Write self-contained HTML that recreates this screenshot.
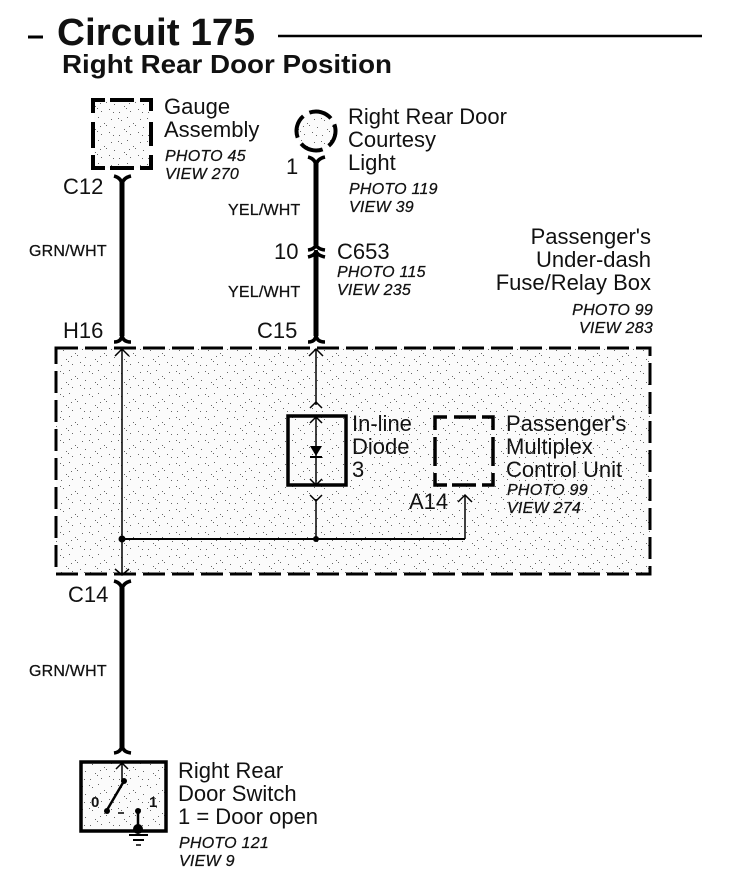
<!DOCTYPE html>
<html><head><meta charset="utf-8"><style>
html,body{margin:0;padding:0;background:#fff}
svg{display:block}
text{font-family:"Liberation Sans",sans-serif;fill:#111}
.l{font-size:22px}
.p{font-size:16px;font-style:italic;letter-spacing:.25px;stroke:#111;stroke-width:.25px}
.w{font-size:16px;letter-spacing:.2px;stroke:#111;stroke-width:.25px}
.b{fill:none;stroke:#000}
</style></head><body>
<svg width="736" height="892" viewBox="0 0 736 892" xmlns="http://www.w3.org/2000/svg">
<defs>
<pattern id="d" width="29" height="23" patternUnits="userSpaceOnUse">
<rect width="29" height="23" fill="#fbfbfb"/>
<g fill="#666">
<rect x="2" y="3" width="1" height="1"/><rect x="5" y="5" width="1" height="1"/>
<rect x="11" y="2" width="1" height="1"/><rect x="17" y="8" width="1" height="1"/>
<rect x="19" y="10" width="1" height="1"/><rect x="24" y="4" width="1" height="1"/>
<rect x="8" y="14" width="1" height="1"/><rect x="10" y="16" width="1" height="1"/>
<rect x="14" y="19" width="1" height="1"/><rect x="22" y="17" width="1" height="1"/>
<rect x="26" y="20" width="1" height="1"/><rect x="3" y="20" width="1" height="1"/>
<rect x="13" y="11" width="1" height="1"/><rect x="27" y="12" width="1" height="1"/>
</g>
</pattern>
</defs>
<rect width="736" height="892" fill="#fff"/>

<!-- Title -->
<line x1="28" y1="37" x2="43" y2="37" stroke="#000" stroke-width="3"/>
<line x1="278" y1="36" x2="702" y2="36" stroke="#000" stroke-width="2.5"/>
<text x="57" y="45" font-size="38" font-weight="bold" textLength="198" lengthAdjust="spacingAndGlyphs">Circuit 175</text>
<text x="62" y="73" font-size="26" font-weight="bold" textLength="330" lengthAdjust="spacingAndGlyphs">Right Rear Door Position</text>

<!-- Gauge -->
<rect x="94" y="100" width="56" height="68" fill="url(#d)"/>
<path class="b" stroke-width="4" d="M93 113V100H105M110 100H134M140 100H151V111M93 122V148M151 122V146M93 155V168H105M110 168H134M140 168H151V155"/>
<text class="l" x="164" y="114">Gauge</text>
<text class="l" x="164" y="137">Assembly</text>
<text class="p" x="165" y="161">PHOTO 45</text>
<text class="p" x="165" y="179">VIEW 270</text>
<text class="l" x="63" y="194">C12</text>
<path d="M114 176 Q122 178 122 186 Q122 178 131 176" class="b" stroke-width="3.5"/>
<line x1="122" y1="180" x2="122" y2="336" stroke="#000" stroke-width="5"/>
<text class="w" x="29" y="256">GRN/WHT</text>
<text class="l" x="63" y="338">H16</text>
<path d="M114 342 Q122 342 122 334 Q122 342 131 342" class="b" stroke-width="3.5"/>

<!-- Courtesy light -->
<circle cx="316" cy="131" r="20" fill="url(#d)"/>
<circle cx="316" cy="131" r="19.5" class="b" stroke-width="4" stroke-dasharray="23.6 7" transform="rotate(-20 316 131)"/>
<text class="l" x="348" y="124">Right Rear Door</text>
<text class="l" x="348" y="147">Courtesy</text>
<text class="l" x="348" y="170">Light</text>
<text class="p" x="349" y="194">PHOTO 119</text>
<text class="p" x="349" y="212">VIEW 39</text>
<text class="l" x="286" y="174">1</text>
<path d="M308 157 Q316 159 316 167 Q316 159 325 157" class="b" stroke-width="3.5"/>
<line x1="316" y1="161" x2="316" y2="245" stroke="#000" stroke-width="5"/>
<text class="w" x="228" y="215">YEL/WHT</text>
<text class="l" x="274" y="259">10</text>
<path d="M308 250 Q316 249 316 243 Q316 249 325 250" class="b" stroke-width="3.5"/>
<path d="M308 257 Q316 255 316 250 Q316 255 325 257" class="b" stroke-width="3.5"/>
<line x1="316" y1="252" x2="316" y2="336" stroke="#000" stroke-width="5"/>
<text class="l" x="337" y="259">C653</text>
<text class="p" x="337" y="277">PHOTO 115</text>
<text class="p" x="337" y="295">VIEW 235</text>
<text class="w" x="228" y="297">YEL/WHT</text>
<text class="l" x="257" y="338">C15</text>
<path d="M308 342 Q316 342 316 334 Q316 342 325 342" class="b" stroke-width="3.5"/>

<!-- Fuse box label -->
<text class="l" x="651" y="244" text-anchor="end">Passenger's</text>
<text class="l" x="651" y="267" text-anchor="end">Under-dash</text>
<text class="l" x="651" y="290" text-anchor="end">Fuse/Relay Box</text>
<text class="p" x="653" y="315" text-anchor="end">PHOTO 99</text>
<text class="p" x="653" y="333" text-anchor="end">VIEW 283</text>

<!-- Main box -->
<rect x="56" y="348" width="594" height="226" fill="url(#d)"/>
<rect x="56" y="348" width="594" height="226" class="b" stroke-width="3" stroke-dasharray="22 7"/>
<line x1="122" y1="349" x2="122" y2="575" stroke="#000" stroke-width="1.5"/>
<path d="M115 356 L122 349 L129 356" class="b" stroke-width="1.5"/>
<path d="M115 569 L122 575 L129 569" class="b" stroke-width="1.5"/>
<line x1="316" y1="349" x2="316" y2="405" stroke="#000" stroke-width="1.5"/>
<path d="M309 356 L316 349 L323 356" class="b" stroke-width="1.5"/>
<path d="M310 408 L316 402 L322 408" class="b" stroke-width="1.5"/>

<!-- Diode -->
<rect x="288" y="416" width="58" height="69" fill="url(#d)" stroke="#000" stroke-width="3.5"/>
<line x1="316" y1="416" x2="316" y2="485" stroke="#000" stroke-width="1.5"/>
<path d="M310 423 L316 417 L322 423" class="b" stroke-width="1.5"/>
<path d="M310 479 L316 485 L322 479" class="b" stroke-width="1.5"/>
<polygon points="310,446 322,446 316,456" fill="#000"/>
<line x1="310" y1="457" x2="322" y2="457" stroke="#000" stroke-width="2"/>
<text class="l" x="352" y="431">In-line</text>
<text class="l" x="352" y="454">Diode</text>
<text class="l" x="352" y="477">3</text>
<path d="M310 495 L316 501 L322 495" class="b" stroke-width="1.5"/>
<line x1="316" y1="499" x2="316" y2="539" stroke="#000" stroke-width="1.5"/>
<circle cx="316" cy="539" r="3" fill="#000"/>
<circle cx="122" cy="539" r="3.5" fill="#000"/>
<line x1="122" y1="539" x2="465" y2="539" stroke="#000" stroke-width="2"/>
<line x1="465" y1="539" x2="465" y2="495" stroke="#000" stroke-width="1.5"/>
<path d="M458 502 L465 495 L472 502" class="b" stroke-width="1.5"/>

<!-- Multiplex -->
<path class="b" stroke-width="3.5" d="M435 430V417H447M454 417H476M482 417H493V430M435 437V466M493 437V466M435 473V485H447M452 485H476M482 485H493V473"/>
<text class="l" x="506" y="431">Passenger's</text>
<text class="l" x="506" y="454">Multiplex</text>
<text class="l" x="506" y="477">Control Unit</text>
<text class="p" x="507" y="495">PHOTO 99</text>
<text class="p" x="507" y="513">VIEW 274</text>
<text class="l" x="409" y="509">A14</text>

<!-- Lower wire -->
<text class="l" x="68" y="602">C14</text>
<path d="M114 581 Q122 583 122 591 Q122 583 131 581" class="b" stroke-width="3.5"/>
<line x1="122" y1="586" x2="122" y2="750" stroke="#000" stroke-width="5"/>
<text class="w" x="29" y="676">GRN/WHT</text>
<path d="M114 753 Q122 752 122 744 Q122 752 131 753" class="b" stroke-width="3.5"/>

<!-- Switch -->
<rect x="81" y="762" width="85" height="69" fill="url(#d)" stroke="#000" stroke-width="3.5"/>
<line x1="122" y1="763" x2="122" y2="782" stroke="#000" stroke-width="1.5"/>
<path d="M116 769 L122 763 L128 769" class="b" stroke-width="1.5"/>
<circle cx="124" cy="781" r="3" fill="#000"/>
<line x1="124" y1="781" x2="107" y2="810" stroke="#000" stroke-width="2.5"/>
<circle cx="107" cy="811" r="3" fill="#000"/>
<circle cx="138" cy="811" r="3" fill="#000"/>
<line x1="118" y1="813" x2="124" y2="813" stroke="#000" stroke-width="1.5"/>
<line x1="138" y1="811" x2="138" y2="828" stroke="#000" stroke-width="2.5"/>
<circle cx="138" cy="829" r="5" fill="#000"/>
<line x1="129" y1="835" x2="148" y2="835" stroke="#000" stroke-width="2"/>
<line x1="133" y1="840" x2="144" y2="840" stroke="#000" stroke-width="2"/>
<line x1="136" y1="845" x2="141" y2="845" stroke="#000" stroke-width="1.5"/>
<text x="91" y="807" font-size="15" font-weight="bold">0</text>
<text x="149" y="807" font-size="15" font-weight="bold">1</text>
<text class="l" x="178" y="778">Right Rear</text>
<text class="l" x="178" y="801">Door Switch</text>
<text class="l" x="178" y="824">1 = Door open</text>
<text class="p" x="179" y="848">PHOTO 121</text>
<text class="p" x="179" y="866">VIEW 9</text>
</svg>
</body></html>
